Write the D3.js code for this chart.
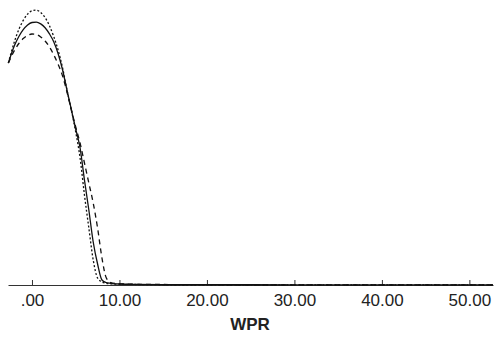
<!DOCTYPE html>
<html>
<head>
<meta charset="utf-8">
<script src="https://cdn.jsdelivr.net/npm/d3@7"></script>
<style>
  body { margin: 0; background: #fff; }
  svg { display: block; }
</style>
</head>
<body>
<svg id="chart"></svg>
<script>
// density estimates of WPR, three groups
const xs = [-2.7, -2, -1.5, -1, -0.5, 0, 0.5, 1, 1.5, 2, 2.5, 3, 3.5, 4, 4.5, 5, 5.5, 6, 6.5, 7, 7.5, 8, 8.5, 9, 10, 12, 15, 20, 30, 40, 52.7];
const solidVals = [0.222, 0.2395, 0.2485, 0.2553, 0.260, 0.2625, 0.2629, 0.2611, 0.2573, 0.2511, 0.243, 0.231, 0.215, 0.195, 0.1755, 0.156, 0.137, 0.105, 0.075, 0.043, 0.021, 0.005, 0.0025, 0.0017, 0.001, 0.0006, 0.0004, 0.0003, 0.0002, 0.0002, 0.0001];
const dottedVals = [0.222, 0.2435, 0.2556, 0.2646, 0.2709, 0.2743, 0.2749, 0.2725, 0.2674, 0.2592, 0.2482, 0.2345, 0.217, 0.195, 0.175, 0.153, 0.127, 0.090, 0.057, 0.025, 0.007, 0.003, 0.0017, 0.0012, 0.0008, 0.0005, 0.0003, 0.0002, 0.0002, 0.0001, 0.0001];
const dashedVals = [0.222, 0.2346, 0.2415, 0.2464, 0.2496, 0.251, 0.2504, 0.2481, 0.244, 0.238, 0.230, 0.2204, 0.209, 0.193, 0.175, 0.158, 0.142, 0.122, 0.102, 0.082, 0.057, 0.027, 0.007, 0.0025, 0.0012, 0.0007, 0.0005, 0.0003, 0.0002, 0.0002, 0.0001];
const tickValues = [0, 10, 20, 30, 40, 50];
const xLabel = 'WPR';

const width = 498, height = 339;

const svg = d3.select('#chart')
    .attr('width', width)
    .attr('height', height);

const x = d3.scaleLinear()
    .domain([-2.74, 52.7])
    .range([8, 493]);

const y = d3.scaleLinear()
    .domain([0, 0.28])
    .range([285, 5]);

// axis
const axis = d3.axisBottom(x)
    .tickValues(tickValues)
    .tickSizeInner(-5)
    .tickSizeOuter(0)
    .tickPadding(9)
    .tickFormat(d => d3.format('.2f')(d).replace(/^0\./, '.'));

const gx = svg.append('g')
    .attr('transform', `translate(0,${y(0)})`)
    .call(axis);

gx.select('.domain')
    .attr('stroke', '#333')
    .attr('stroke-width', 1);
gx.selectAll('.tick line')
    .attr('stroke', '#333');
gx.selectAll('.tick text')
    .attr('fill', '#222')
    .style('font-family', '"Liberation Sans", Arial, sans-serif')
    .style('font-size', '17px');

svg.append('text')
    .attr('x', 250)
    .attr('y', 330)
    .attr('text-anchor', 'middle')
    .attr('fill', '#222')
    .style('font-family', '"Liberation Sans", Arial, sans-serif')
    .style('font-size', '17px')
    .style('font-weight', 'bold')
    .text(xLabel);

// curves
const line = d3.line()
    .x(d => x(d[0]))
    .y(d => y(d[1]))
    .curve(d3.curveMonotoneX);

const series = [
    { vals: dashedVals, dash: '5,4' },
    { vals: dottedVals, dash: '2,2' },
    { vals: solidVals, dash: null }
];

svg.append('g')
    .attr('class', 'curves')
    .selectAll('path')
    .data(series)
    .enter()
    .append('path')
        .attr('d', s => line(xs.map((xv, i) => [xv, s.vals[i]])))
        .attr('fill', 'none')
        .attr('stroke', '#111')
        .attr('stroke-width', 1.3)
        .attr('stroke-dasharray', s => s.dash);
</script>
</body>
</html>
